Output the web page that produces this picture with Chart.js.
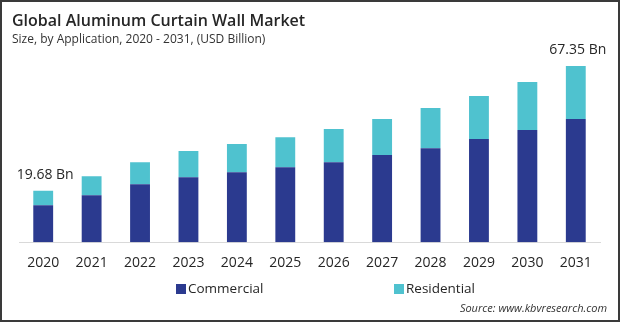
<!DOCTYPE html>
<html>
<head>
<meta charset="utf-8">
<script src="https://cdn.jsdelivr.net/npm/chart.js@4.4.0/dist/chart.umd.min.js"></script>
<style>
  html, body { margin: 0; padding: 0; background: #fff; }
  .frame { position: relative; width: 620px; height: 322px; box-sizing: border-box; border: 2px solid #3a3a3a; }
  canvas { position: absolute; left: -2px; top: -2px; }
</style>
</head>
<body>
<div class="frame"><canvas id="CurtainWall" width="620" height="322"></canvas></div>
<script>
(function () {
  "use strict";

  // Data
  const years       = ['2020', '2021', '2022', '2023', '2024', '2025', '2026', '2027', '2028', '2029', '2030', '2031'];
  const commercial  = [14.16, 17.99, 22.20, 24.88, 26.79, 28.70, 30.62, 33.30, 35.97, 39.42, 42.86, 47.07];
  const residential = [5.52, 7.27, 8.42, 9.95, 10.72, 11.48, 12.63, 13.78, 15.31, 16.46, 18.37, 20.28];
  const endLabels   = { 0: '19.68 Bn', 11: '67.35 Bn' };

  // Colors
  const navy  = '#2b3a8f';
  const teal  = '#4fc2cf';
  const ink   = '#262626';
  const font  = "'Open Sans', 'DejaVu Sans', sans-serif";

  // titles, value labels, legend and source drawn on top
  const decor = {
    id: 'decor',
    afterDraw(chart) {
      const ctx = chart.ctx;
      const x = chart.scales.x, y = chart.scales.y;
      ctx.save();
      ctx.fillStyle = ink;
      ctx.textBaseline = 'middle';
      ctx.textAlign = 'left';
      ctx.font = '600 16px ' + font;
      ctx.fillText('Global Aluminum Curtain Wall Market', 12, 21);
      ctx.font = '12px ' + font;
      ctx.fillStyle = '#333';
      ctx.fillText('Size, by Application, 2020 - 2031, (USD Billion)', 12, 40);

      // end value labels
      ctx.font = '14px ' + font;
      ctx.fillStyle = ink;
      ctx.textAlign = 'center';
      ctx.textBaseline = 'alphabetic';
      Object.keys(endLabels).forEach(function (i) {
        const total = commercial[i] + residential[i];
        ctx.fillText(endLabels[i], x.getPixelForValue(+i) + 2, y.getPixelForValue(total) - 12);
      });

      // legend
      ctx.textAlign = 'left';
      ctx.textBaseline = 'middle';
      ctx.font = '13.5px ' + font;
      const spots = [176, 394];
      chart.data.datasets.forEach(function (ds, k) {
        ctx.fillStyle = ds.backgroundColor;
        ctx.fillRect(spots[k], 284, 10, 10);
        ctx.fillStyle = ink;
        ctx.fillText(ds.label, spots[k] + 12, 289);
      });

      // source
      ctx.font = 'italic 11px ' + font;
      ctx.fillStyle = '#333';
      ctx.textAlign = 'right';
      ctx.fillText('Source: www.kbvresearch.com', 607, 309);
      ctx.restore();
    }
  };

  const el = document.getElementById('CurtainWall');
  new Chart(el.getContext('2d'), {
    type: 'bar',
    data: {
      labels: years,
      datasets: [{
        label: 'Commercial',
        data: commercial,
        backgroundColor: navy
      },
      {
        label: 'Residential',
        data: residential,
        backgroundColor: teal
      }]
    },
    options: {
      responsive: false,
      animation: false,
      layout: {
        padding: { left: 19, right: 20, top: 33, bottom: 39 }
      },
      datasets: {
        bar: {
          categoryPercentage: 1,
          barPercentage: 0.41
        }
      },
      plugins: {
        legend: { display: false },
        tooltip: { enabled: false }
      },
      scales: {
        x: {
          stacked: true,
          grid: { display: false, drawTicks: false },
          border: { display: true, color: '#d9d9d9', width: 1 },
          ticks: {
            color: ink,
            padding: 12,
            font: { family: font, size: 14 }
          }
        },
        y: {
          stacked: true,
          display: false,
          min: 0,
          max: 80
        }
      }
    },
    plugins: [decor]
  });
})();
</script>
</body>
</html>
